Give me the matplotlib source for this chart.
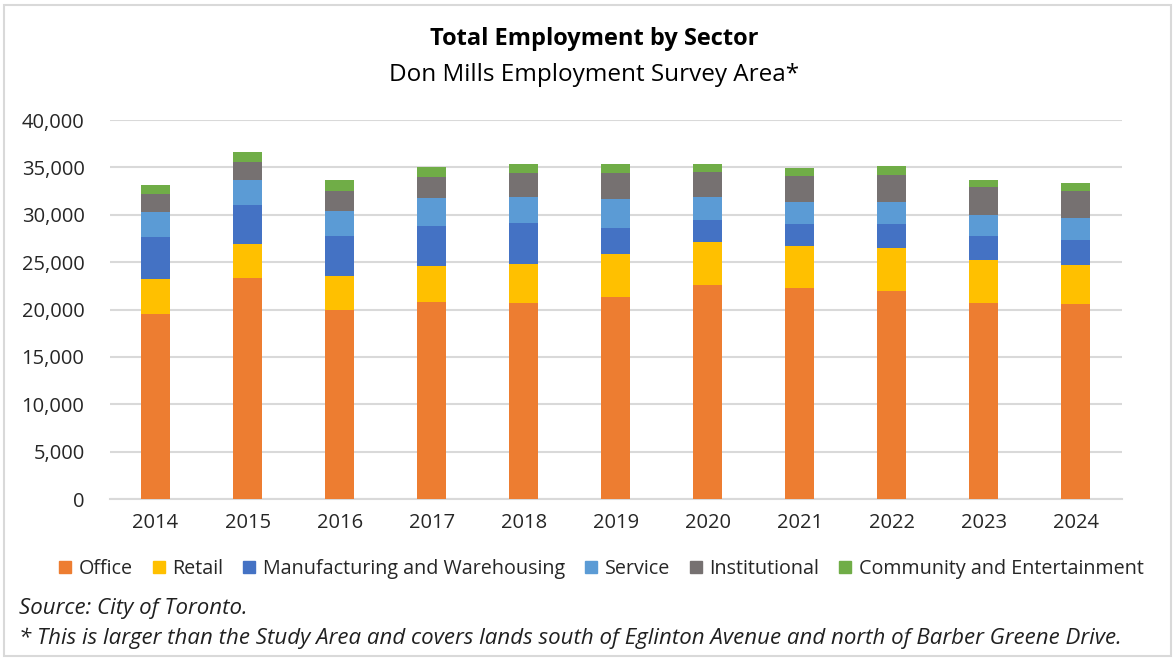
import matplotlib.pyplot as plt
import matplotlib.patches as mpatches
import numpy as np

years = ["2014", "2015", "2016", "2017", "2018", "2019", "2020", "2021", "2022", "2023", "2024"]

office = [19500, 23300, 19900, 20750, 20650, 21300, 22580, 22230, 21950, 20680, 20570]
retail = [3700, 3600, 3630, 3840, 4120, 4510, 4540, 4470, 4540, 4540, 4120]
manufacturing = [4470, 4170, 4230, 4230, 4410, 2830, 2370, 2330, 2540, 2540, 2650]
service = [2650, 2570, 2680, 3000, 2740, 3060, 2430, 2370, 2370, 2260, 2320]
institutional = [1870, 1900, 2040, 2140, 2470, 2680, 2570, 2670, 2850, 2860, 2900]
community = [950, 1090, 1170, 1060, 950, 950, 850, 850, 880, 740, 840]

sectors = ["Office", "Retail", "Manufacturing and Warehousing", "Service",
           "Institutional", "Community and Entertainment"]
colors = ["#ED7D31", "#FFC000", "#4472C4", "#5B9BD5", "#767171", "#70AD47"]

plt.rcParams['font.family'] = ['Open Sans', 'DejaVu Sans']

fig = plt.figure(figsize=(11.75, 6.58), dpi=100)
ax = fig.add_axes([0.0932, 0.2416, 0.8617, 0.576])

# light border around the chart like the excel export
fig.patches.append(mpatches.Rectangle((0.003, 0.003), 0.994, 0.99, transform=fig.transFigure,
                                      fill=False, edgecolor="#d9d9d9", linewidth=1.5))

x_vals = np.arange(len(years))
bar_width = 0.315
bottom = np.zeros(len(years))
for vals, col, lab in zip([office, retail, manufacturing, service, institutional, community],
                          colors, sectors):
    ax.bar(x_vals, vals, width=bar_width, bottom=bottom, color=col, label=lab, zorder=3)
    bottom += np.array(vals)

ax.set_xlim(-0.5, len(years) - 0.5)
ax.set_ylim(0, 40000)
ax.set_yticks(np.arange(0, 40001, 5000))
ax.set_yticklabels([f"{v:,}" for v in range(0, 40001, 5000)])
ax.set_xticks(x_vals, years)
ax.grid(axis="y", color="#d9d9d9", linewidth=1.5, zorder=0)
for s in ["top", "right", "left"]:
    ax.spines[s].set_visible(False)
ax.spines["bottom"].set_color("#d9d9d9")
ax.spines["bottom"].set_linewidth(1.5)
ax.tick_params(axis="both", length=0, labelsize=14.5, colors="#262626")
ax.tick_params(axis="y", pad=18)
ax.tick_params(axis="x", pad=10)

fig.text(0.506, 0.94, "Total Employment by Sector", ha="center", va="center",
         fontsize=17, fontweight="bold", color="black")
fig.text(0.506, 0.886, "Don Mills Employment Survey Area*", ha="center", va="center",
         fontsize=17.5, color="black")

handles = [mpatches.Patch(color=c, label=l) for c, l in zip(colors, sectors)]
fig.legend(handles=handles, loc="center", bbox_to_anchor=(0.512, 0.135), ncol=6,
           frameon=False, fontsize=14.2, handlelength=0.6, handleheight=0.6,
           handletextpad=0.4, columnspacing=1.0, labelcolor="#262626")

fig.text(0.016, 0.075, "Source: City of Toronto.", ha="left", va="center",
         fontsize=16, style="italic", color="#202020")
fig.text(0.016, 0.03, "* This is larger than the Study Area and covers lands south of Eglinton Avenue and north of Barber Greene Drive.",
         ha="left", va="center", fontsize=16, style="italic", color="#202020")

plt.savefig("out.png", dpi=100)
